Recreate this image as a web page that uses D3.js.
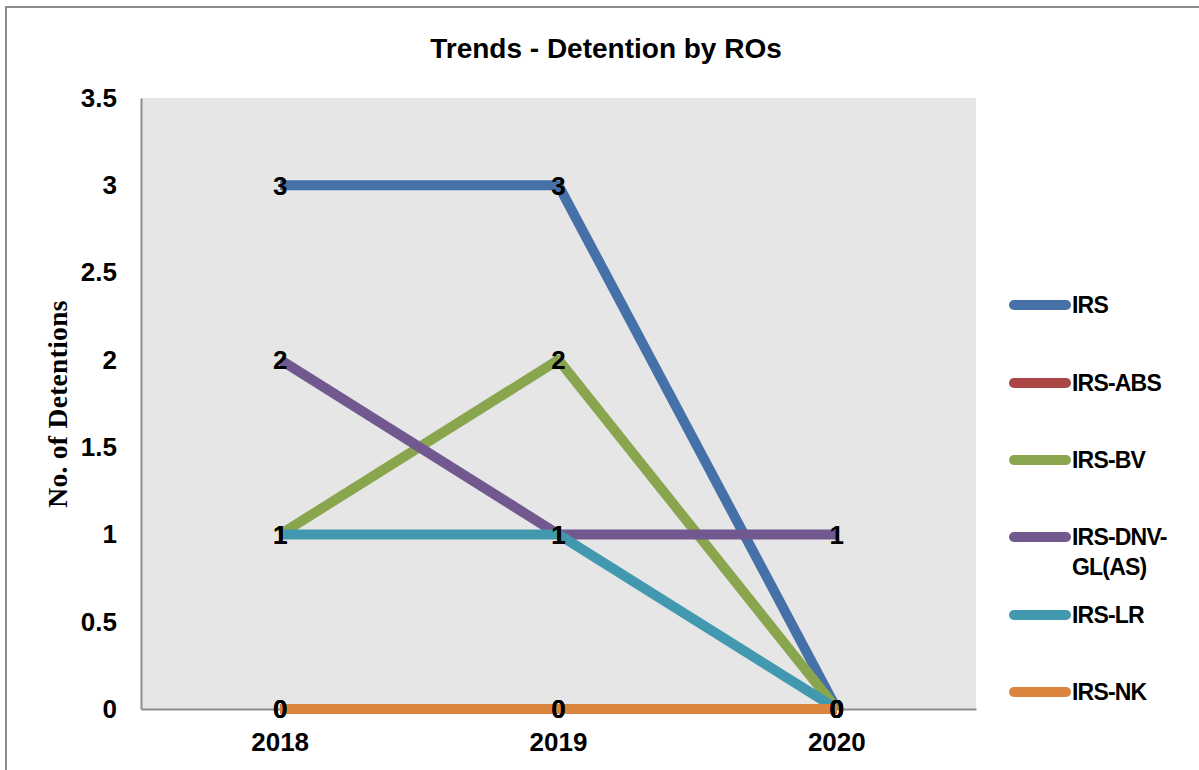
<!DOCTYPE html>
<html>
<head>
<meta charset="utf-8">
<script src="https://cdn.jsdelivr.net/npm/d3@7"></script>
<style>
  html, body { margin: 0; padding: 0; background: #fff; }
  svg { display: block; }
  text { font-family: "Liberation Sans", Arial, sans-serif; font-weight: bold; fill: #000; }
</style>
</head>
<body>
<svg id="chart" width="1199" height="770"></svg>
<script>
// ---- data ----
const years = ["2018", "2019", "2020"];
const seriesNames = ["IRS", "IRS-ABS", "IRS-BV", "IRS-DNV-GL(AS)", "IRS-LR", "IRS-NK"];
const irs    = [3, 3, 0];
const irsAbs = [0, 0, 0];
const irsBv  = [1, 2, 0];
const irsDnv = [2, 1, 1];
const irsLr  = [1, 1, 0];
const irsNk  = [0, 0, 0];
const yTicks = [0, 0.5, 1, 1.5, 2, 2.5, 3, 3.5];
const colors = ["#4571A8", "#AA4643", "#89A64E", "#71588F", "#4198AF", "#DB843D"];
const legendLines = [["IRS"], ["IRS-ABS"], ["IRS-BV"], ["IRS-DNV-", "GL(AS)"], ["IRS-LR"], ["IRS-NK"]];

const seriesValues = [irs, irsAbs, irsBv, irsDnv, irsLr, irsNk];
const series = seriesNames.map((name, i) => ({ name, color: colors[i], values: seriesValues[i] }));

const svg = d3.select("#chart");

// outer border (only top and left visible)
svg.append("rect").attr("x", 6).attr("y", 7).attr("width", 1300).attr("height", 900)
  .attr("fill", "none").attr("stroke", "#8c8c8c").attr("stroke-width", 2);

// plot area
const pLeft = 141, pRight = 976, pTop = 98, pBottom = 709;
const x = d3.scaleBand().domain(years).range([pLeft, pRight]).padding(0);
const y = d3.scaleLinear().domain([0, 3.5]).range([pBottom, pTop]);
const cx = d => x(d) + x.bandwidth() / 2;

svg.append("rect").attr("x", pLeft).attr("y", pTop).attr("width", pRight - pLeft).attr("height", pBottom - pTop)
  .attr("fill", "#e6e6e6");

// title
svg.append("text").attr("x", 606).attr("y", 58).attr("text-anchor", "middle")
  .style("font-size", "28px").text("Trends - Detention by ROs");

// y axis title
svg.append("text")
  .attr("transform", "translate(67,404) rotate(-90)")
  .attr("text-anchor", "middle")
  .style("font-family", "'Liberation Serif', 'Times New Roman', serif")
  .style("font-size", "27.5px")
  .style("letter-spacing", "0.3px")
  .text("No. of Detentions");

// axes
const yAxis = svg.append("g").attr("transform", `translate(${pLeft},0)`)
  .call(d3.axisLeft(y).tickValues(yTicks).tickSize(0).tickSizeOuter(0).tickPadding(24).tickFormat(d => String(d)));
yAxis.select(".domain").attr("stroke", "#8c8c8c").attr("stroke-width", 2);
yAxis.selectAll("text").style("font-family", "'Liberation Sans', Arial, sans-serif")
  .style("font-weight", "bold").style("font-size", "26px").attr("fill", "#000");

const xAxis = svg.append("g").attr("transform", `translate(0,${pBottom})`)
  .call(d3.axisBottom(x).tickSize(0).tickSizeOuter(0).tickPadding(24));
xAxis.select(".domain").attr("stroke", "#8c8c8c").attr("stroke-width", 2);
xAxis.selectAll("text").style("font-family", "'Liberation Sans', Arial, sans-serif")
  .style("font-weight", "bold").style("font-size", "26px").attr("fill", "#000");

// lines
const line = d3.line().x((d, i) => cx(years[i])).y(d => y(d));
svg.append("g").selectAll("path").data(series).join("path")
  .attr("d", d => line(d.values))
  .attr("fill", "none").attr("stroke", d => d.color).attr("stroke-width", 10)
  .attr("stroke-linejoin", "round").attr("stroke-linecap", "butt");

// data labels
const labels = [];
series.forEach(s => s.values.forEach((v, i) => labels.push({ year: years[i], v })));
svg.append("g").selectAll("text").data(labels).join("text")
  .attr("x", d => cx(d.year)).attr("y", d => y(d.v))
  .attr("text-anchor", "middle").attr("dy", "0.36em")
  .style("font-size", "26px").text(d => d.v);

// legend
const legendY = [305, 383, 460, 537, 615, 692];
const lg = svg.append("g").selectAll("g").data(series).join("g")
  .attr("transform", (d, i) => `translate(0,${legendY[i]})`);
lg.append("line").attr("x1", 1014).attr("x2", 1066).attr("y1", 0).attr("y2", 0)
  .attr("stroke", d => d.color).attr("stroke-width", 10).attr("stroke-linecap", "round");
lg.each(function(d, i) {
  const t = d3.select(this).append("text").attr("x", 1072).attr("y", 0)
    .style("font-size", "23px").style("letter-spacing", "-0.8px");
  legendLines[i].forEach((ln, j) => {
    t.append("tspan").attr("x", 1072).attr("dy", j === 0 ? "0.36em" : "30px").text(ln);
  });
});
</script>
</body>
</html>
